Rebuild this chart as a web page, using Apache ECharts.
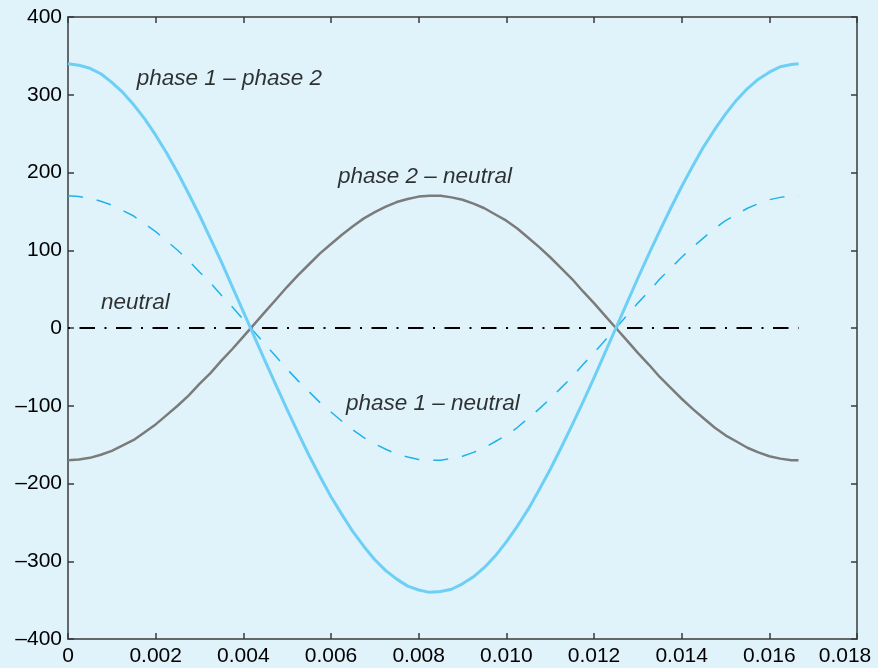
<!DOCTYPE html>
<html>
<head>
<meta charset="utf-8">
<title>Single-phase three-wire voltages</title>
<script src="https://cdn.jsdelivr.net/npm/echarts@6/dist/echarts.min.js"></script>
<style>
  html, body { margin: 0; padding: 0; background: #e0f3fb; }
  #chart { width: 878px; height: 668px; }
</style>
</head>
<body>
<div id="chart"></div>
<script>
// Time samples over one 60 Hz cycle (seconds), every 0.25 ms
const timeSec = [
  0, 0.00025, 0.0005, 0.00075, 0.001, 0.00125, 0.0015, 0.00175, 0.002, 0.00225,
  0.0025, 0.00275, 0.003, 0.00325, 0.0035, 0.00375, 0.004, 0.00425, 0.0045, 0.00475,
  0.005, 0.00525, 0.0055, 0.00575, 0.006, 0.00625, 0.0065, 0.00675, 0.007, 0.00725,
  0.0075, 0.00775, 0.008, 0.00825, 0.0085, 0.00875, 0.009, 0.00925, 0.0095, 0.00975,
  0.010, 0.01025, 0.0105, 0.01075, 0.011, 0.01125, 0.0115, 0.01175, 0.012, 0.01225,
  0.0125, 0.01275, 0.013, 0.01325, 0.0135, 0.01375, 0.014, 0.01425, 0.0145, 0.01475,
  0.015, 0.01525, 0.0155, 0.01575, 0.016, 0.01625, 0.0165, 0.016667
];

// Line-to-line voltage (V)
const phase1ToPhase2 = [
  340, 338, 334, 327, 316, 303, 287, 269, 248, 225,
  200, 173, 145, 115, 85, 53, 21, -11, -43, -74,
  -105, -135, -164, -191, -217, -240, -262, -281, -298, -312,
  -323, -332, -337, -340, -339, -336, -329, -320, -308, -293,
  -275, -255, -233, -208, -182, -154, -125, -95, -64, -32,
  0, 32, 64, 95, 125, 154, 182, 208, 233, 255,
  275, 293, 308, 320, 329, 336, 339, 340
];

// Phase 1 to neutral (V)
const phase1ToNeutral = [
  170, 169, 167, 163, 158, 151, 144, 134, 124, 112,
  100, 87, 72, 58, 42, 27, 11, -5, -21, -37,
  -53, -68, -82, -96, -108, -120, -131, -141, -149, -156,
  -162, -166, -169, -170, -170, -168, -165, -160, -154, -146,
  -138, -128, -116, -104, -91, -77, -63, -47, -32, -16,
  0, 16, 32, 47, 63, 77, 91, 104, 116, 128,
  138, 146, 154, 160, 165, 168, 170, 170
];

// Phase 2 to neutral (V)
const phase2ToNeutral = [
  -170, -169, -167, -163, -158, -151, -144, -134, -124, -112,
  -100, -87, -72, -58, -42, -27, -11, 5, 21, 37,
  53, 68, 82, 96, 108, 120, 131, 141, 149, 156,
  162, 166, 169, 170, 170, 168, 165, 160, 154, 146,
  138, 128, 116, 104, 91, 77, 63, 47, 32, 16,
  0, -16, -32, -47, -63, -77, -91, -104, -116, -128,
  -138, -146, -154, -160, -165, -168, -170, -170
];

// Neutral conductor
const neutralTime = [0, 0.016667];
const neutralVolts = [0, 0];

// Curve labels: [time, volts, text]
const curveLabels = [
  [0.00157, 320, 'phase 1 – phase 2'],
  [0.00616, 194, 'phase 2 – neutral'],
  [0.00634, -98, 'phase 1 – neutral'],
  [0.00075, 33, 'neutral']
];

const xTicks = { min: 0, max: 0.018, interval: 0.002 };
const yTicks = { min: -400, max: 400, interval: 100 };

const pair = (xs, ys) => xs.map((x, i) => [x, ys[i]]);

const FONT = '"Liberation Sans", Arial, Helvetica, sans-serif';
const AXIS_COLOR = '#3a3a3a';

function axisBase(extra) {
  return Object.assign({
    type: 'value',
    axisLine: { show: true, onZero: false, lineStyle: { color: AXIS_COLOR, width: 1.5 } },
    axisTick: { show: true, inside: true, length: 6, lineStyle: { color: AXIS_COLOR, width: 1.5 } },
    splitLine: { show: false },
    minorTick: { show: false }
  }, extra);
}

const chart = echarts.init(document.getElementById('chart'), null, { renderer: 'canvas' });

chart.setOption({
  backgroundColor: '#e0f3fb',
  animation: false,
  grid: {
    left: 68, right: 21, top: 17, bottom: 29,
    containLabel: false, outerBoundsMode: 'none'
  },
  xAxis: [
    axisBase({
      position: 'bottom', min: xTicks.min, max: xTicks.max, interval: xTicks.interval,
      axisLabel: {
        show: true, color: '#000', fontFamily: FONT, fontSize: 21, margin: 7,
        hideOverlap: false,
        // the last label is nudged left so it stays inside the page
        formatter: v => {
          const s = v === 0 ? '0' : v.toFixed(3);
          return v >= xTicks.max ? '{last|' + s + '}' : s;
        },
        rich: {
          last: { fontFamily: FONT, fontSize: 21, color: '#000', padding: [0, 24, 0, 0] }
        }
      }
    }),
    axisBase({
      position: 'top', min: xTicks.min, max: xTicks.max, interval: xTicks.interval,
      axisLabel: { show: false }
    })
  ],
  yAxis: [
    axisBase({
      position: 'left', min: yTicks.min, max: yTicks.max, interval: yTicks.interval,
      axisLabel: {
        show: true, color: '#000', fontFamily: FONT, fontSize: 21, margin: 6,
        formatter: v => String(v).replace('-', '\u2013')
      }
    }),
    axisBase({
      position: 'right', min: yTicks.min, max: yTicks.max, interval: yTicks.interval,
      axisLabel: { show: false }
    })
  ],
  series: [
    {
      name: 'neutral', type: 'line', xAxisIndex: 0, yAxisIndex: 0,
      data: pair(neutralTime, neutralVolts), showSymbol: false,
      lineStyle: { color: '#000', width: 2, type: [15.5, 9.5, 2, 9.5], dashOffset: 25 }
    },
    {
      name: 'phase 1 – neutral', type: 'line', xAxisIndex: 0, yAxisIndex: 0,
      data: pair(timeSec, phase1ToNeutral), showSymbol: false,
      lineStyle: { color: '#1fb3ea', width: 1.5, type: [15, 14] }
    },
    {
      name: 'phase 2 – neutral', type: 'line', xAxisIndex: 0, yAxisIndex: 0,
      data: pair(timeSec, phase2ToNeutral), showSymbol: false,
      lineStyle: { color: '#7b7b7b', width: 2.5, join: 'round' }
    },
    {
      name: 'phase 1 – phase 2', type: 'line', xAxisIndex: 0, yAxisIndex: 0,
      data: pair(timeSec, phase1ToPhase2), showSymbol: false,
      lineStyle: { color: '#6dcff6', width: 3, join: 'round' }
    },
    {
      name: 'labels', type: 'scatter', xAxisIndex: 0, yAxisIndex: 0,
      data: curveLabels.map(d => ({ value: [d[0], d[1]], name: d[2] })),
      symbolSize: 0, silent: true,
      label: {
        show: true, position: 'right', distance: 0,
        formatter: p => p.name,
        color: '#000', fontFamily: FONT, fontSize: 22.5, fontStyle: 'italic'
      }
    }
  ]
});
</script>
</body>
</html>
